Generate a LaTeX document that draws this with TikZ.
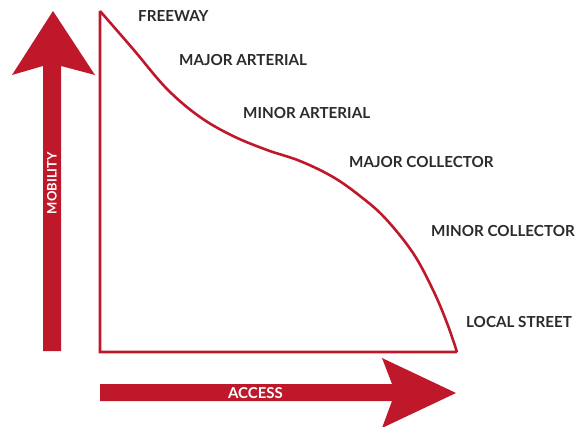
\documentclass[tikz,border=0pt]{standalone}
\usepackage{fontspec}
\setmainfont{Lato}
\definecolor{roadred}{HTML}{C0182B}
\definecolor{labelgray}{HTML}{2B2B2B}
\begin{document}
\begin{tikzpicture}[x=1pt,y=-1pt,
  label/.style={anchor=base west,inner sep=0pt,text=labelgray,
    font=\fontsize{15.2}{17}\selectfont\bfseries},
  axislabel/.style={inner sep=0pt,text=white,
    font=\fontsize{13}{15}\selectfont\bfseries},
  bigarrow/.style={fill=roadred,draw=none},
  outline/.style={draw=roadred,line width=2.6pt,line join=miter}]
\useasboundingbox (0,0) rectangle (575,427);

% mobility arrow (vertical)
\fill[bigarrow] (43,351) -- (43,66) -- (12,75) -- (53,11) -- (95,75)
  -- (61,66) -- (61,351) -- cycle;
% access arrow (horizontal)
\fill[bigarrow] (100,384) -- (392,384) -- (382,358) -- (456,393)
  -- (382,428) -- (392,401) -- (100,401) -- cycle;

\node[axislabel,rotate=90] (mob) at (52,183) {MOBILITY};
\node[axislabel,font=\fontsize{15}{17}\selectfont\bfseries] (acc) at (255.5,393) {ACCESS};

% the mobility/access curve and its frame
\draw[outline] (457,352) -- (100,352) -- (100,11)
  plot[smooth,tension=0.6] coordinates {(100,11) (133,49) (167,89) (200,117)
   (233,136) (267,150) (300,161) (333,177) (360,196) (385,218) (413,253)
   (433,290) (447,323) (457,352)};

\node[label] (fw)  at (138,22)  {FREEWAY};
\node[label] (maa) at (179,66)  {MAJOR ARTERIAL};
\node[label] (mia) at (243,119) {MINOR ARTERIAL};
\node[label] (mac) at (349,168) {MAJOR COLLECTOR};
\node[label] (mic) at (431,237) {MINOR COLLECTOR};
\node[label] (ls)  at (466,327) {LOCAL STREET};
\end{tikzpicture}
\end{document}
